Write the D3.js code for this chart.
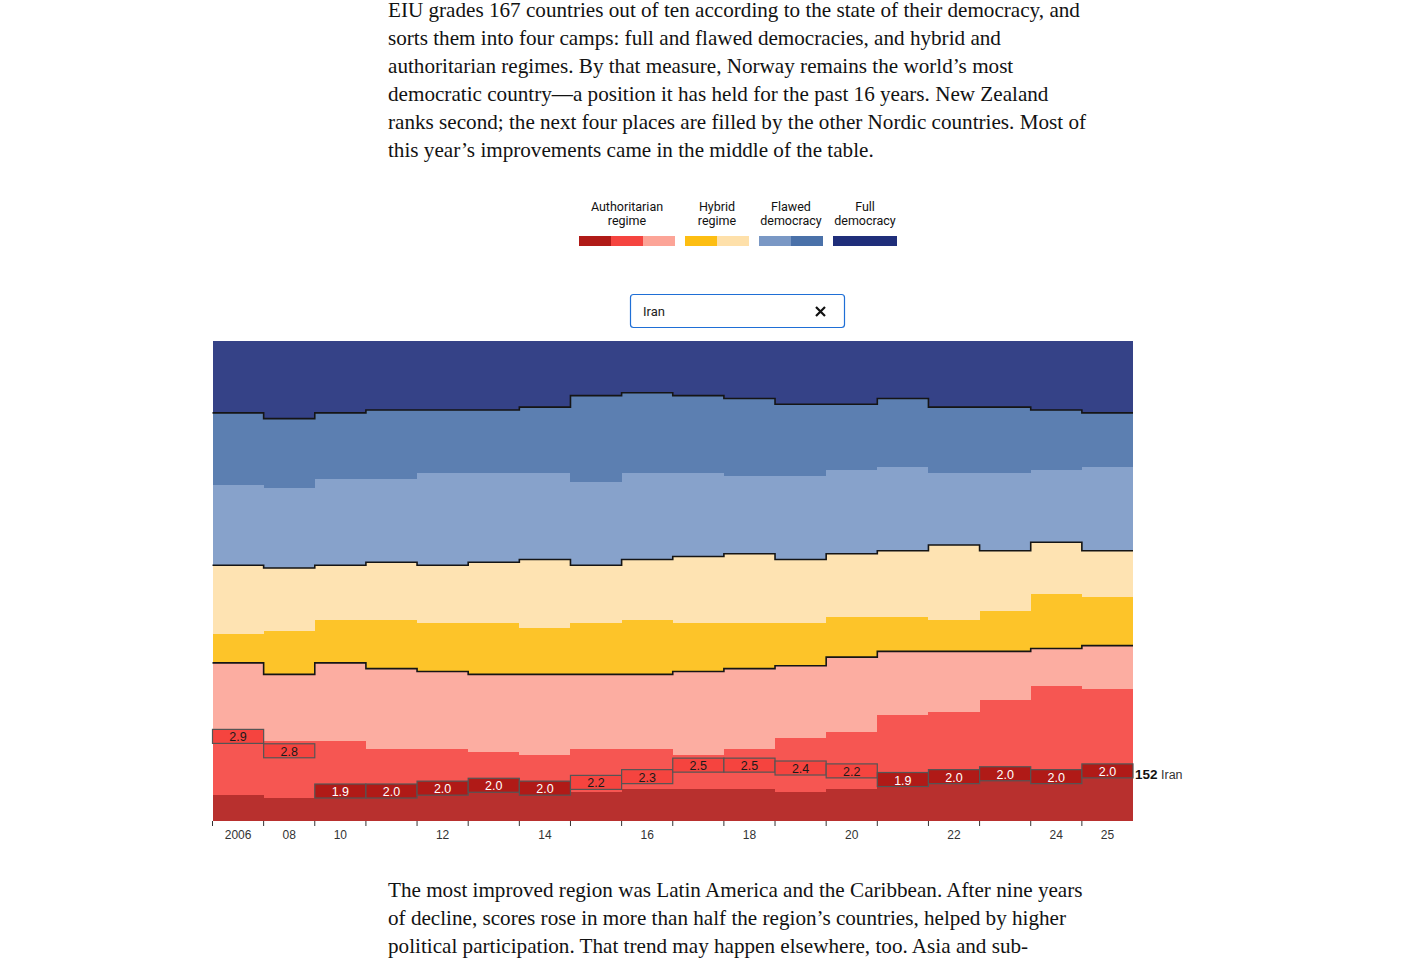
<!DOCTYPE html>
<html>
<head>
<meta charset="utf-8">
<script src="https://cdn.jsdelivr.net/npm/d3@7"></script>
<style>
  body { margin: 0; background: #fff; }
  svg { display: block; }
  .body-text { font-family: "Liberation Serif", serif; font-size: 21.15px; fill: #121212; }
  .legend-text { font-family: Roboto, sans-serif; font-size: 12.5px; fill: #111; }
  .axis-text { font-family: "Liberation Sans", Arial, sans-serif; font-size: 12px; fill: #333; }
  .box-text { font-family: "Liberation Sans", Arial, sans-serif; font-size: 12.5px; }
</style>
</head>
<body>
<svg id="chart" width="1401" height="964"></svg>
<script>
// ---- data ----
const years = [2006, 2008, 2010, 2011, 2012, 2013, 2014, 2015, 2016, 2017,
  2018, 2019, 2020, 2021, 2022, 2023, 2024, 2025];
const tickYears = [2006, 2008, 2010, 2012, 2014, 2016, 2018, 2020, 2022, 2024, 2025];

// number of countries in each score band, bottom band first
const authLow    = [9, 8, 11, 11, 13, 14, 13, 10, 11, 11, 11, 10, 11, 15, 16, 17, 16, 18];
const authMid    = [20, 20, 17, 14, 12, 10, 10, 15, 14, 12, 14, 19, 20, 22, 22, 25, 31, 28];
const authHigh   = [26, 23, 27, 28, 27, 27, 28, 26, 26, 29, 28, 25, 26, 22, 21, 17, 13, 15];
const hybridLow  = [10, 15, 15, 17, 17, 18, 16, 18, 19, 17, 16, 15, 14, 12, 11, 14, 19, 17];
const hybridHigh = [24, 22, 19, 20, 20, 21, 24, 20, 21, 23, 24, 22, 22, 23, 26, 21, 18, 16];
const flawedLow  = [28, 28, 30, 29, 32, 31, 30, 29, 30, 29, 27, 29, 29, 29, 25, 27, 25, 29];
const flawedHigh = [25, 24, 23, 24, 22, 22, 23, 30, 28, 27, 27, 25, 23, 24, 23, 23, 21, 19];
const full       = [25, 27, 25, 24, 24, 24, 23, 19, 18, 19, 20, 22, 22, 20, 23, 23, 24, 25];

const bandKeys = ["authLow", "authMid", "authHigh", "hybridLow", "hybridHigh", "flawedLow", "flawedHigh", "full"];
const bandColors = ["#b01a17", "#f5443f", "#fca497", "#fdbe12", "#fee0aa", "#7a98c5", "#4a71a9", "#1f2e7a"];
const bandThresholds = [2, 3, 4, 5, 6, 7, 8];

// the highlighted country
const countryName = "Iran";
const iranRank  = [140, 145, 159, 159, 158, 157, 158, 156, 154, 150, 150, 151, 152, 155, 154, 153, 154, 152];
const iranScore = [2.93, 2.83, 1.94, 1.98, 1.98, 1.98, 1.98, 2.16, 2.34, 2.47, 2.47, 2.38, 2.20, 1.93, 1.96, 1.96, 1.96, 1.96];

const legendGroups = [
  { label: ["Authoritarian", "regime"], bands: [0, 1, 2] },
  { label: ["Hybrid", "regime"], bands: [3, 4] },
  { label: ["Flawed", "democracy"], bands: [5, 6] },
  { label: ["Full", "democracy"], bands: [7, 7] }
];

const introLines = [
  "EIU grades 167 countries out of ten according to the state of their democracy, and",
  "sorts them into four camps: full and flawed democracies, and hybrid and",
  "authoritarian regimes. By that measure, Norway remains the world\u2019s most",
  "democratic country\u2014a position it has held for the past 16 years. New Zealand",
  "ranks second; the next four places are filled by the other Nordic countries. Most of",
  "this year\u2019s improvements came in the middle of the table."
];
const outroLines = [
  "The most improved region was Latin America and the Caribbean. After nine years",
  "of decline, scores rose in more than half the region\u2019s countries, helped by higher",
  "political participation. That trend may happen elsewhere, too. Asia and sub-"
];

// ---- drawing ----
const svg = d3.select("#chart");

// paragraphs
svg.append("g").selectAll("text")
  .data(introLines)
  .join("text")
  .attr("class", "body-text")
  .attr("x", 388)
  .attr("y", (d, i) => 17 + i * 28)
  .text(d => d);

svg.append("g").selectAll("text")
  .data(outroLines)
  .join("text")
  .attr("class", "body-text")
  .attr("x", 388)
  .attr("y", (d, i) => 897 + i * 28)
  .text(d => d);

// legend
const swatchW = 32, gap = 10;
const legend = svg.append("g").attr("transform", "translate(579,0)");
let lx = 0;
legendGroups.forEach(g => {
  const single = g.bands[0] === g.bands[1];
  const w = single ? swatchW * 2 : swatchW * g.bands.length;
  const grp = legend.append("g").attr("transform", `translate(${lx},0)`);
  if (single) {
    grp.append("rect").attr("x", 0).attr("y", 236).attr("width", w).attr("height", 10)
      .attr("fill", bandColors[g.bands[0]]);
  } else {
    grp.selectAll("rect").data(g.bands).join("rect")
      .attr("x", (d, i) => i * swatchW).attr("y", 236)
      .attr("width", swatchW).attr("height", 10)
      .attr("fill", d => bandColors[d]);
  }
  grp.selectAll("text").data(g.label).join("text")
    .attr("class", "legend-text")
    .attr("x", w / 2)
    .attr("y", (d, i) => 211 + i * 14)
    .attr("text-anchor", "middle")
    .text(d => d);
  lx += w + gap;
});

// search box
const search = svg.append("g");
search.append("rect").attr("x", 630.5).attr("y", 294.5).attr("width", 214).attr("height", 33)
  .attr("rx", 3).attr("fill", "#fff").attr("stroke", "#1f6fd6").attr("stroke-width", 1.2);
search.append("text").attr("x", 643).attr("y", 316)
  .style("font-family", "Roboto, sans-serif").style("font-size", "13px").style("fill", "#222")
  .text(countryName);
search.append("path").attr("d", "M816,307L825,316M825,307L816,316")
  .attr("stroke", "#111").attr("stroke-width", 2.2).attr("fill", "none");

// chart
const margin = { top: 341, left: 212.5, right: 1133, bottom: 821 };
const total = authLow[0] + authMid[0] + authHigh[0] + hybridLow[0] + hybridHigh[0] +
  flawedLow[0] + flawedHigh[0] + full[0];

const x = d3.scaleBand().domain(years).range([margin.left, margin.right]).padding(0);
const y = d3.scaleLinear().domain([0, total]).range([margin.bottom, margin.top]);

const table = years.map((yr, i) => ({
  year: yr,
  authLow: authLow[i], authMid: authMid[i], authHigh: authHigh[i],
  hybridLow: hybridLow[i], hybridHigh: hybridHigh[i],
  flawedLow: flawedLow[i], flawedHigh: flawedHigh[i], full: full[i]
}));

const series = d3.stack().keys(bandKeys)(table);

const area = d3.area()
  .curve(d3.curveStepAfter)
  .x(d => d.x)
  .y0(d => y(d.y0))
  .y1(d => y(d.y1));

// step points: one per column start, plus the right edge
function stepPoints(s, acc) {
  const pts = s.map((d, i) => ({ x: x(years[i]), y0: d[0], y1: d[1], v: acc(d) }));
  const last = s[s.length - 1];
  pts.push({ x: x(years[years.length - 1]) + x.bandwidth(), y0: last[0], y1: last[1], v: acc(last) });
  return pts;
}

const chart = svg.append("g");
chart.selectAll("path.band")
  .data(series)
  .join("path")
  .attr("class", "band")
  .attr("d", s => area(stepPoints(s, d => d[1])))
  .attr("fill", (s, i) => bandColors[i])
  .attr("fill-opacity", 0.9)
  .attr("shape-rendering", "crispEdges");

// black lines on the borders between the four camps
const borderLine = d3.line().curve(d3.curveStepAfter).x(d => d.x).y(d => y(d.v));
[2, 4, 6].forEach(bi => {
  chart.append("path")
    .attr("d", borderLine(stepPoints(series[bi], d => d[1])))
    .attr("fill", "none")
    .attr("stroke", "#151515")
    .attr("stroke-width", 1.6);
});

// highlighted country boxes
const boxH = 14;
const bandOf = v => d3.bisectRight(bandThresholds, v);
const fmt = d3.format(".1f");
const boxes = chart.append("g").selectAll("g")
  .data(years.map((yr, i) => ({ year: yr, rank: iranRank[i], score: iranScore[i] })))
  .join("g");
boxes.append("rect")
  .attr("x", d => x(d.year))
  .attr("y", d => y(total - d.rank) - boxH)
  .attr("width", x.bandwidth())
  .attr("height", boxH)
  .attr("fill", d => bandColors[bandOf(d.score)])
  .attr("stroke", "#555")
  .attr("stroke-width", 1.2);
boxes.append("text")
  .attr("class", "box-text")
  .attr("x", d => x(d.year) + x.bandwidth() / 2)
  .attr("y", d => y(total - d.rank) - boxH / 2 + 5)
  .attr("text-anchor", "middle")
  .style("fill", d => bandOf(d.score) === 0 ? "#fff" : "#1a1a1a")
  .text(d => fmt(d.score));

// end label
const lastI = years.length - 1;
const endLabel = svg.append("text")
  .attr("x", margin.right + 2)
  .attr("y", y(total - iranRank[lastI]) - boxH / 2 + 8)
  .style("font-family", "\"Liberation Sans\", Arial, sans-serif")
  .style("font-size", "13.5px")
  .style("fill", "#111");
endLabel.append("tspan").style("font-weight", "bold").text(iranRank[lastI]);
endLabel.append("tspan").style("fill", "#333").style("font-size", "12.5px").text(" " + countryName);

// x axis
const axis = svg.append("g");
axis.selectAll("line")
  .data(years)
  .join("line")
  .attr("x1", d => x(d)).attr("x2", d => x(d))
  .attr("y1", margin.bottom).attr("y2", margin.bottom + 5)
  .attr("stroke", "#333").attr("stroke-width", 1);
axis.selectAll("text")
  .data(tickYears)
  .join("text")
  .attr("class", "axis-text")
  .attr("x", d => x(d) + x.bandwidth() / 2)
  .attr("y", margin.bottom + 18)
  .attr("text-anchor", "middle")
  .text(d => d === 2006 ? String(d) : String(d).slice(2));
</script>
</body>
</html>
